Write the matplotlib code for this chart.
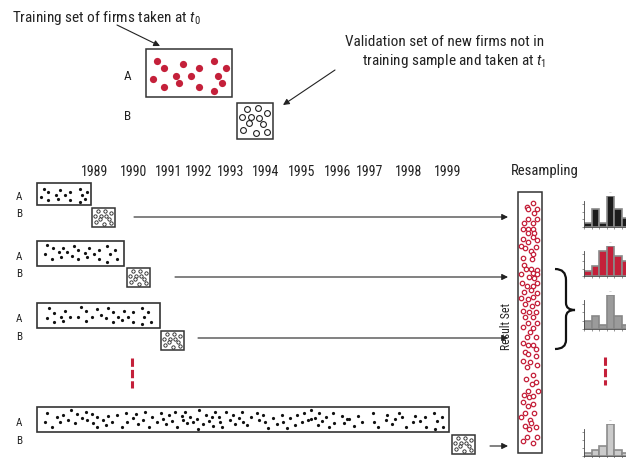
import matplotlib
matplotlib.use('Agg')
import matplotlib.pyplot as plt
from matplotlib.patches import Rectangle, PathPatch
from matplotlib.path import Path
from matplotlib import font_manager

names = {f.name for f in font_manager.fontManager.ttflist}
FONT = 'DejaVu Sans'
for cand in ['Roboto Condensed', 'Archivo Narrow', 'Asap Condensed', 'Liberation Sans Narrow']:
    if cand in names:
        FONT = cand
        break
plt.rcParams['font.family'] = [FONT, 'DejaVu Sans']
plt.rcParams['mathtext.fontset'] = 'custom'
plt.rcParams['mathtext.it'] = FONT + ':italic'
plt.rcParams['mathtext.rm'] = FONT
plt.rcParams['lines.scale_dashes'] = False

# ---- data ----
years = ['1989', '1990', '1991', '1992', '1993', '1994', '1995', '1996', '1997', '1998', '1999']

# training set dots (relative position inside the box)
train_rel = [(0.128, 0.25), (0.209, 0.396), (0.081, 0.625), (0.209, 0.79), (0.349, 0.5625),
             (0.384, 0.708), (0.43, 0.3125), (0.523, 0.5625), (0.616, 0.396), (0.616, 0.79),
             (0.79, 0.25), (0.93, 0.396), (0.837, 0.5625), (0.884, 0.708), (0.79, 0.875)]
# validation set circles (relative position inside the box)
valid_rel = [(0.28, 0.17), (0.58, 0.14), (0.83, 0.28), (0.14, 0.40), (0.40, 0.40), (0.60, 0.42),
             (0.33, 0.56), (0.72, 0.58), (0.17, 0.75), (0.52, 0.82), (0.83, 0.80)]

row2_dots = [(47, 245), (53, 248), (45, 254), (52, 259), (59, 252), (63, 248), (67, 252), (61, 257),
             (72, 256), (74, 246), (78, 250), (78, 259), (85, 253), (87, 257), (89, 248), (94, 254),
             (99, 250), (99, 259), (107, 246), (115, 250), (110, 254), (107, 262), (117, 259)]
row3_dots = [(49, 308), (54, 313), (47, 318), (54, 322), (61, 317), (65, 311), (63, 321), (70, 317),
             (78, 317), (81, 307), (86, 311), (86, 321), (92, 317), (97, 309), (101, 315), (106, 318),
             (108, 308), (113, 312), (113, 322), (118, 317), (124, 311), (122, 320), (128, 317),
             (133, 312), (133, 322), (142, 308), (148, 312), (144, 317), (142, 324), (151, 322)]
row4_dots = [(47, 413), (45, 422), (52, 427), (57, 417), (60, 422), (63, 415), (68, 420), (71, 410),
             (75, 423), (77, 414), (82, 418), (86, 412), (87, 420), (92, 414), (93, 423), (97, 417),
             (97, 427), (103, 420), (106, 425), (108, 416), (112, 422), (117, 415), (122, 427),
             (126, 413), (127, 422), (133, 418), (136, 414), (138, 424), (143, 420), (145, 412),
             (149, 427), (152, 417), (157, 422), (161, 413), (163, 419), (166, 424), (169, 415),
             (172, 421), (175, 412), (177, 427), (182, 416), (183, 420), (187, 423), (185, 412),
             (190, 417), (193, 422), (197, 419), (199, 410), (198, 429), (203, 424), (206, 415),
             (209, 421), (212, 417), (215, 412), (213, 426), (219, 417), (220, 422), (222, 427),
             (226, 412), (230, 420), (233, 415), (235, 424), (239, 418), (242, 412), (243, 422),
             (247, 425), (251, 417), (257, 413), (259, 420), (263, 415), (265, 422), (268, 428),
             (273, 418), (277, 424), (282, 415), (283, 422), (287, 428), (290, 418), (295, 425),
             (297, 415), (302, 422), (304, 413), (308, 420), (311, 410), (315, 418), (318, 425),
             (311, 419), (319, 413), (322, 421), (326, 417), (329, 427), (333, 413), (334, 423),
             (342, 416), (344, 423), (347, 419), (349, 419), (354, 426), (358, 416), (362, 422),
             (373, 413), (374, 422), (378, 427), (387, 415), (386, 420), (392, 424), (395, 419),
             (399, 413), (402, 417), (406, 427), (413, 422), (415, 416), (420, 421), (426, 427),
             (425, 417), (434, 413), (435, 429), (437, 421), (442, 417), (443, 427)]

result_dots = [(533, 203), (527, 207), (528, 209), (537, 209), (534, 213), (524, 223), (528, 219),
               (533, 223), (537, 219), (523, 229), (528, 229), (533, 229), (528, 233), (534, 233),
               (523, 239), (528, 242), (533, 237), (537, 240), (521, 246), (525, 248), (531, 251),
               (536, 247), (533, 254), (523, 258), (532, 259), (524, 265), (531, 269), (537, 270),
               (521, 274), (526, 269), (533, 273), (537, 274), (529, 277), (534, 278), (522, 283),
               (527, 286), (533, 286), (537, 283), (524, 292), (531, 290), (537, 293), (521, 298),
               (528, 299), (533, 297), (525, 304), (532, 306), (537, 303), (523, 311), (529, 312),
               (536, 312), (525, 317), (533, 317), (528, 323), (537, 323), (523, 327), (533, 328),
               (530, 332), (527, 337), (536, 337), (523, 343), (528, 345), (533, 345), (536, 349),
               (525, 352), (528, 354), (536, 356), (523, 361), (530, 362), (527, 367), (537, 365),
               (533, 375), (526, 379), (536, 382), (532, 384), (528, 391), (538, 391), (524, 395),
               (529, 397), (533, 396), (523, 402), (528, 406), (533, 404), (525, 413), (534, 413),
               (521, 417), (530, 420), (531, 423), (525, 426), (536, 427), (529, 429), (527, 437),
               (537, 437), (523, 441), (533, 443)]

hist_black = [1, 4, 1, 7, 4, 2, 1]
hist_red = [1, 2, 5, 6, 4, 3, 1]
hist_gray = [2, 3, 1, 8, 3, 1]
hist_light = [1, 2, 3, 10, 2, 1]

RED = '#c4203a'
INK = '#222222'

fig = plt.figure(figsize=(6.26, 4.58), dpi=100)
ax = fig.add_axes([0, 0, 1, 1])
ax.set_xlim(0, 626)
ax.set_ylim(458, 0)
ax.axis('off')


def box(x0, y0, w, h, lw=1.1):
    ax.add_patch(Rectangle((x0, y0), w, h, fill=False, ec='#333333', lw=lw, zorder=2))


def rel_dots(x0, y0, w, h, pts):
    return [x0 + fx * w for fx, fy in pts], [y0 + fy * h for fx, fy in pts]


def arrow(x0, y0, x1, y1):
    ax.annotate('', xy=(x1, y1), xytext=(x0, y0),
                arrowprops=dict(arrowstyle='-|>', color=INK, lw=0.8,
                                mutation_scale=9, shrinkA=0, shrinkB=0))


# ---- top explanation ----
ax.text(12, 18, 'Training set of firms taken at $t_0$', fontsize=11, color=INK,
        ha='left', va='center')
arrow(117, 25, 160, 46)
box(146, 49, 86, 48)
xs, ys = rel_dots(146, 49, 86, 48, train_rel)
ax.plot(xs, ys, 'o', color=RED, ms=5.2, mew=0, zorder=3)
ax.text(128, 77, 'A', fontsize=9.5, color=INK, ha='center', va='center')
ax.text(128, 117, 'B', fontsize=9.5, color=INK, ha='center', va='center')
box(237, 103, 36, 36)
xs, ys = rel_dots(237, 103, 36, 36, valid_rel)
ax.plot(xs, ys, 'o', mfc='white', mec=INK, ms=4.2, mew=0.8, zorder=3)
ax.text(544, 42, 'Validation set of new firms not in', fontsize=11, color=INK,
        ha='right', va='center')
ax.text(546, 61, 'training sample and taken at $t_1$', fontsize=11, color=INK,
        ha='right', va='center')
arrow(335, 70, 283, 105)

# ---- timeline ----
year_x = [94.5, 134, 169, 199, 231, 266, 302, 338, 370, 409, 448]
for yx, yr in zip(year_x, years):
    ax.text(yx, 172, yr, fontsize=10, color=INK, ha='center', va='center')

a_right = [91, 124, 160, 449]
a_top = [183, 241, 303, 407]
a_h = [22, 25, 25, 25]
b_left = [92, 127, 161, 452]
b_top = [208, 268, 331, 435]
arrow_start = [134, 175, 198, 490]
arrow_y = [217, 277, 338, 446]
row_dots = [None, row2_dots, row3_dots, row4_dots]

for i in range(4):
    box(37, a_top[i], a_right[i] - 37, a_h[i], lw=1.2)
    if row_dots[i] is None:
        xs, ys = rel_dots(37, a_top[i], a_right[i] - 37, a_h[i], train_rel)
    else:
        xs = [p[0] for p in row_dots[i]]
        ys = [p[1] for p in row_dots[i]]
    ax.plot(xs, ys, 'o', color='#111111', ms=2.3, mew=0, zorder=3)
    ax.text(19, a_top[i] + a_h[i] / 2 + 3, 'A', fontsize=8, color=INK, ha='center', va='center')
    ax.text(19, b_top[i] + 6, 'B', fontsize=8, color=INK, ha='center', va='center')
    box(b_left[i], b_top[i], 23, 19, lw=1.1)
    xs, ys = rel_dots(b_left[i], b_top[i], 23, 19, valid_rel)
    ax.plot(xs, ys, 'o', mfc='white', mec=INK, ms=2.4, mew=0.6, zorder=3)
    arrow(arrow_start[i], arrow_y[i], 508, arrow_y[i])

# red dashes (more years)
ax.plot([132, 132], [358, 388], color=RED, lw=2.2, ls=(0, (6, 2.2)), solid_capstyle='butt')
ax.plot([605, 605], [357, 385], color=RED, lw=2.2, ls=(0, (6, 2.2)), solid_capstyle='butt')

# ---- result set ----
ax.add_patch(Rectangle((518, 192), 24, 261, fill=False, ec='#333333', lw=1.1, zorder=2))
ax.plot([p[0] for p in result_dots], [p[1] for p in result_dots], 'o', mfc='white',
        mec=RED, ms=3.2, mew=0.9, zorder=3)
ax.text(507, 327, 'Result Set', fontsize=8.5, color=INK, rotation=90, ha='center', va='center')
ax.text(545, 171, 'Resampling', fontsize=10.5, color=INK, ha='center', va='center')

# brace
verts = [(555, 269), (566, 269), (566, 280), (566, 303), (566, 310), (575, 310),
         (566, 310), (566, 317), (566, 340), (566, 349), (555, 349)]
codes = [Path.MOVETO, Path.CURVE3, Path.CURVE3, Path.LINETO, Path.CURVE3, Path.CURVE3,
         Path.CURVE3, Path.CURVE3, Path.LINETO, Path.CURVE3, Path.CURVE3]
ax.add_patch(PathPatch(Path(verts, codes), fill=False, ec='#111111', lw=1.6))


# ---- histograms ----
def hist(top, bottom, values, face, edge):
    bw = 7.5
    h = fig.add_axes([584 / 626, 1 - bottom / 458, 7 * bw / 626, (bottom - top) / 458])
    h.bar(range(len(values)), values, width=1, align='edge', color=face, edgecolor=edge, lw=1.2)
    h.set_xlim(0, 7)
    h.set_ylim(0, max(values))
    for s in ['top', 'right']:
        h.spines[s].set_visible(False)
    for s in ['left', 'bottom']:
        h.spines[s].set_linewidth(0.6)
        h.spines[s].set_color('#444444')
    h.spines['left'].set_bounds(0, max(values) * 0.85)
    h.set_xticks(range(8))
    h.set_yticks([max(values) * k / 4 for k in range(4)])
    h.tick_params(length=1.5, width=0.4, labelbottom=False, labelleft=False, color='#444444')
    h.patch.set_alpha(0)
    h.set_title('\u2014', fontsize=3, color='#777777', pad=1)


hist(196, 227, hist_black, '#1c1c1c', '#8a8a8a')
hist(246, 276, hist_red, '#c4203a', '#8a8a8a')
hist(295, 329, hist_gray, '#9b9b9b', '#888888')
hist(424, 456, hist_light, '#cbcbcb', '#8c8c8c')

fig.savefig('out.png', dpi=100)
